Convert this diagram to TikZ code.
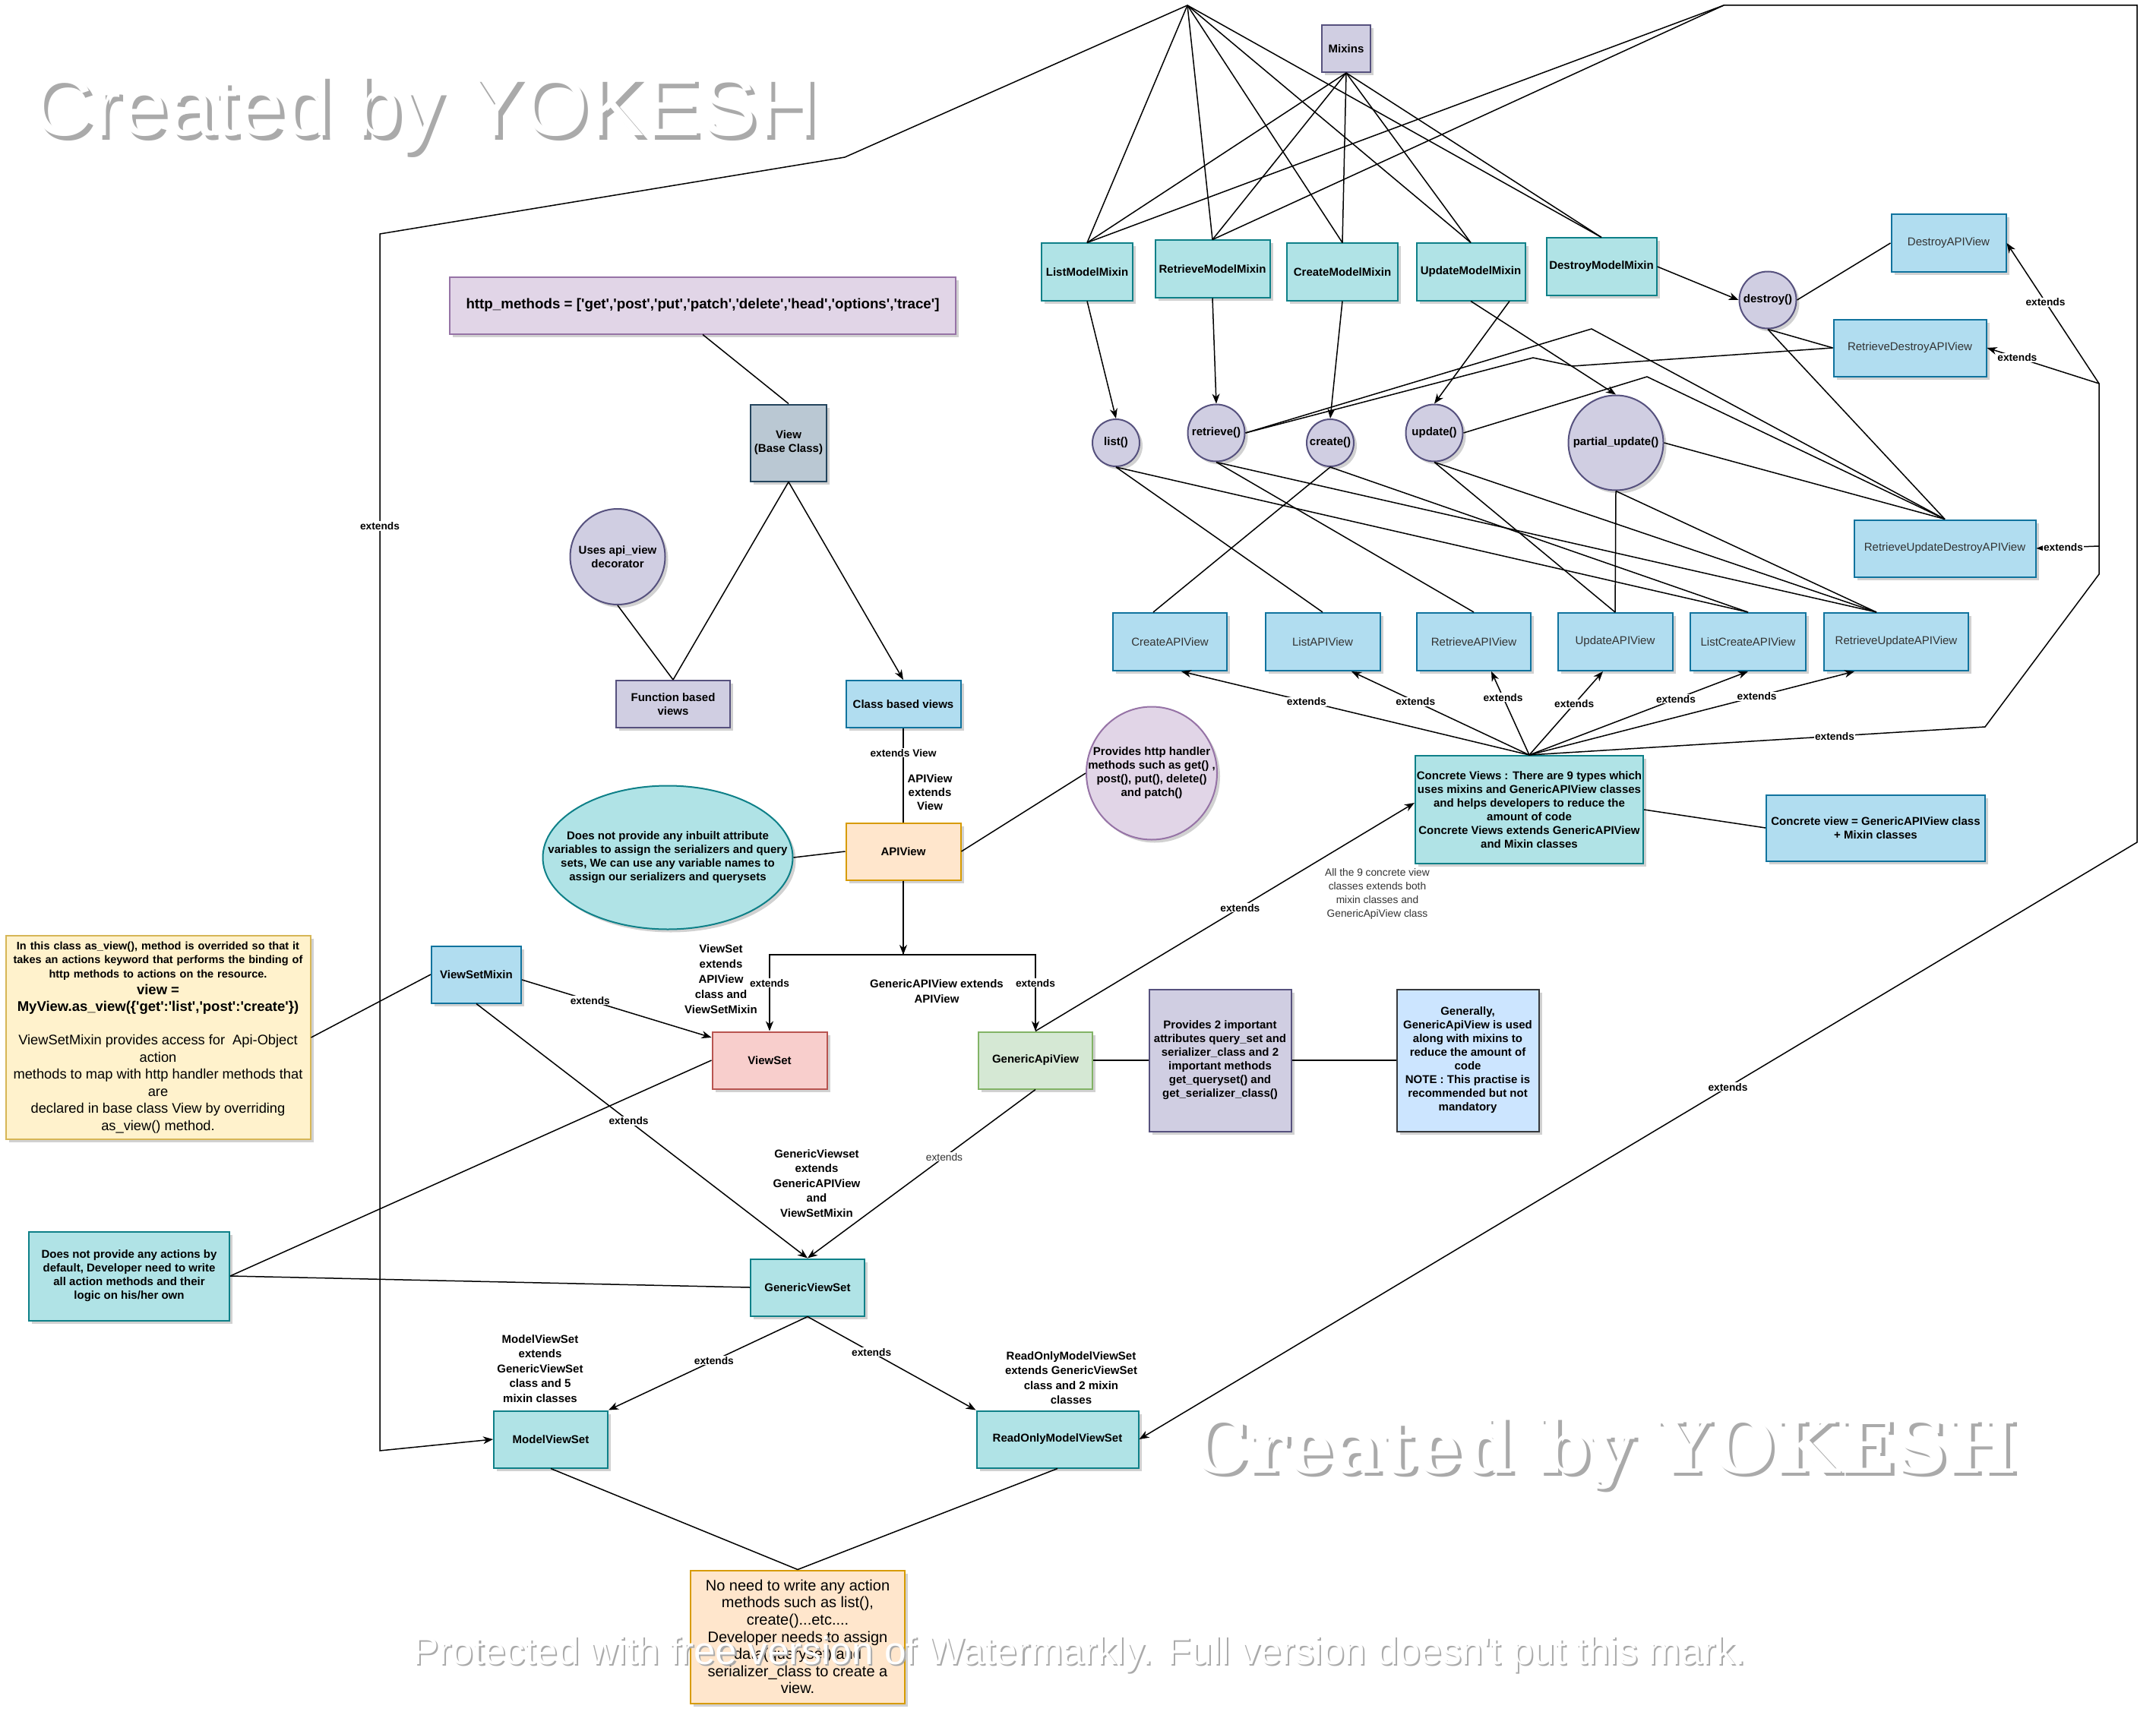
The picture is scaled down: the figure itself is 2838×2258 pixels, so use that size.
\documentclass[tikz,border=0pt]{standalone}
\usepackage{fontspec}
\usepackage{graphicx}
\newfontfamily\dsans{Liberation Sans}
\newfontfamily\wmserif{DejaVu Serif}
\usetikzlibrary{shapes.geometric,arrows.meta,shadows}
\definecolor{tealF}{HTML}{B0E3E6}\definecolor{tealD}{HTML}{0E8088}
\definecolor{blueF}{HTML}{B1DDF0}\definecolor{blueD}{HTML}{10739E}
\definecolor{purF}{HTML}{D0CEE2}\definecolor{purD}{HTML}{56517E}
\definecolor{lilF}{HTML}{E1D5E7}\definecolor{lilD}{HTML}{9673A6}
\definecolor{grayF}{HTML}{BAC8D3}\definecolor{grayD}{HTML}{23445D}
\definecolor{orF}{HTML}{FFE6CC}\definecolor{orD}{HTML}{D79B00}
\definecolor{redF}{HTML}{F8CECC}\definecolor{redD}{HTML}{B85450}
\definecolor{grF}{HTML}{D5E8D4}\definecolor{grD}{HTML}{82B366}
\definecolor{yeF}{HTML}{FFF2CC}\definecolor{yeD}{HTML}{D6B656}
\definecolor{lbF}{HTML}{CCE5FF}\definecolor{lbD}{HTML}{36393D}
\definecolor{txtgray}{HTML}{333333}
\definecolor{wmshadow}{HTML}{AAAAAA}
\newcommand{\wmtext}[2]{\makebox[0pt][l]{\kern#2\raisebox{-#2}{\textcolor{wmshadow}{#1}}}\textcolor{white}{#1}}
\begin{document}
\begin{tikzpicture}[x=1pt,y=-1pt,
  font=\dsans\bfseries\fontsize{15}{18}\selectfont,
  base/.style={line width=2pt, inner sep=2pt, align=center,
    drop shadow={shadow xshift=4pt,shadow yshift=-4pt,opacity=0.18,fill=black}},
  tbox/.style={base, fill=tealF, draw=tealD},
  bbox/.style={base, fill=blueF, draw=blueD},
  pbox/.style={base, fill=purF, draw=purD},
  lbox/.style={base, fill=lilF, draw=lilD},
  obox/.style={base, fill=orF, draw=orD},
  pell/.style={pbox, ellipse, inner sep=0pt},
  lell/.style={lbox, ellipse, inner sep=0pt},
  tell/.style={tbox, ellipse, inner sep=0pt},
  reg/.style={font=\dsans\mdseries\fontsize{15}{18}\selectfont, text=txtgray},
  tx/.style={align=center, inner sep=0pt},
  ln/.style={line width=1.5pt, draw=black},
  arr/.style={ln, -{Stealth[length=13pt,width=10pt,inset=4pt]}},
  lab/.style={fill=white, inner sep=1pt, font=\dsans\bfseries\fontsize{13.75}{16}\selectfont},
  labr/.style={lab, font=\dsans\mdseries\fontsize{13.75}{16}\selectfont, text=txtgray}
]
\fill[white] (0,0) rectangle (2838,2258);
\useasboundingbox (0,0) rectangle (2838,2258);

% ---------- mixins ----------
\node[pbox, minimum width=64, minimum height=62] (mixins) at (1772,64) {Mixins};
\node[tbox, minimum width=120, minimum height=75] (lmm) at (1431,358) {ListModelMixin};
\node[tbox, minimum width=151, minimum height=75] (rmm) at (1596,354) {RetrieveModelMixin};
\node[tbox, minimum width=146, minimum height=75] (cmm) at (1767,358) {CreateModelMixin};
\node[tbox, minimum width=143, minimum height=75] (umm) at (1936,358) {UpdateModelMixin};
\node[tbox, minimum width=145, minimum height=75] (dmm) at (2108,351) {DestroyModelMixin};

% ---------- methods ----------
\node[pell, minimum width=62, minimum height=62] (list) at (1469,583) {};
\node[tx] (listT) at (list) {list()};
\node[pell, minimum width=75, minimum height=75] (retr) at (1601,570) {};
\node[tx] (retrT) at (retr) {retrieve()};
\node[pell, minimum width=62, minimum height=62] (create) at (1751,583) {};
\node[tx] (createT) at (create) {create()};
\node[pell, minimum width=75, minimum height=75] (update) at (1888,570) {};
\node[tx] (updateT) at (update) {update()};
\node[pell, minimum width=125, minimum height=125] (pupd) at (2127,583) {};
\node[tx] (pupdT) at (pupd) {partial\_update()};
\node[pell, minimum width=75, minimum height=75] (destroy) at (2327,395) {};
\node[tx] (destroyT) at (destroy) {destroy()};

% ---------- concrete api views ----------
\node[bbox, reg, minimum width=151, minimum height=75] (dav) at (2565,320) {DestroyAPIView};
\node[bbox, reg, minimum width=201, minimum height=75] (rdav) at (2514,458) {RetrieveDestroyAPIView};
\node[bbox, reg, minimum width=239, minimum height=75] (rudav) at (2560,722) {RetrieveUpdateDestroyAPIView};
\node[bbox, reg, minimum width=150, minimum height=76] (cav) at (1540,845) {CreateAPIView};
\node[bbox, reg, minimum width=151, minimum height=76] (lav) at (1741,845) {ListAPIView};
\node[bbox, reg, minimum width=150, minimum height=76] (rav) at (1940,845) {RetrieveAPIView};
\node[bbox, reg, minimum width=151, minimum height=76] (uav) at (2126,845) {UpdateAPIView};
\node[bbox, reg, minimum width=152, minimum height=76] (lcav) at (2301,845) {ListCreateAPIView};
\node[bbox, reg, minimum width=190, minimum height=76] (ruav) at (2496,845) {RetrieveUpdateAPIView};

\node[tbox, minimum width=299, minimum height=142] (conc) at (2013,1066)
  {Concrete Views : There are 9 types which\\uses mixins and GenericAPIView classes\\and helps developers to reduce the\\amount of code\\Concrete Views extends GenericAPIView\\and Mixin classes};
\node[bbox, minimum width=288, minimum height=87] (cv) at (2469,1090)
  {Concrete view = GenericAPIView class\\+ Mixin classes};
\node[tx, font=\dsans\mdseries\fontsize{13.75}{18}\selectfont, text=txtgray] (allnine) at (1813,1177)
  {All the 9 concrete view\\classes extends both\\mixin classes and\\GenericApiView class};

% ---------- left part ----------
\node[lbox, minimum width=666, minimum height=75, font=\dsans\bfseries\fontsize{18.75}{22}\selectfont] (http) at (925,402)
  {http\_methods = ['get','post','put','patch','delete','head','options','trace']};
\node[base, fill=grayF, draw=grayD, minimum width=100, minimum height=101] (view) at (1038,583) {View\\(Base Class)};
\node[pell, minimum width=125, minimum height=126] (api) at (813,733) {};
\node[tx] (apiT) at (api) {Uses api\_view\\decorator};
\node[pbox, minimum width=150, minimum height=62] (fbv) at (886,927) {Function based\\views};
\node[bbox, minimum width=151, minimum height=62] (cbv) at (1189,927) {Class based views};
\node[obox, minimum width=151, minimum height=75] (apiv) at (1189,1121) {APIView};
\node[tx] (tapiv) at (1224,1043) {APIView\\extends\\View};
\node[lell, minimum width=172, minimum height=175] (phh) at (1516,1018) {};
\node[tx] (phhT) at (phh) {Provides http handler\\methods such as get() ,\\post(), put(), delete()\\and patch()};
\node[tell, minimum width=329, minimum height=189] (dnp) at (879,1129) {};
\node[tx] (dnpT) at (dnp) {Does not provide any inbuilt attribute\\variables to assign the serializers and query\\sets, We can use any variable names to\\assign our serializers and querysets};

\node[base, fill=redF, draw=redD, minimum width=151, minimum height=75] (vs) at (1013,1396) {ViewSet};
\node[base, fill=grF, draw=grD, minimum width=150, minimum height=75] (gav) at (1363,1396) {GenericApiView};
\node[tx, font=\dsans\bfseries\fontsize{15}{20}\selectfont] (tvs) at (949,1289) {ViewSet\\extends\\APIView\\class and\\ViewSetMixin};
\node[tx, font=\dsans\bfseries\fontsize{15}{20}\selectfont] (tgav) at (1233,1305) {GenericAPIView extends\\APIView};
\node[pbox, minimum width=187, minimum height=187] (p2i) at (1606,1396)
  {Provides 2 important\\attributes query\_set and\\serializer\_class and 2\\important methods\\get\_queryset() and\\get\_serializer\_class()};
\node[base, fill=lbF, draw=lbD, minimum width=187, minimum height=187] (gen) at (1932,1396)
  {Generally,\\GenericApiView is used\\along with mixins to\\reduce the amount of\\code\\NOTE : This practise is\\recommended but not\\mandatory};

\node[bbox, minimum width=118, minimum height=75] (vsm) at (627,1283) {ViewSetMixin};
\node[base, fill=yeF, draw=yeD, minimum width=401, minimum height=268, text width=399pt, inner sep=1pt] (yel) at (208,1366)
  {{\fontsize{14.5}{18.5}\selectfont In this class as\_view(), method is overrided so that it\\takes an actions keyword that performs the binding of\\http methods to actions on the resource.\par}
   {\fontsize{18.5}{22}\selectfont view =\\MyView.as\_view(\{'get':'list','post':'create'\})\par}
   \vspace{22pt}
   {\mdseries\fontsize{18.3}{22.5}\selectfont ViewSetMixin provides access for~ Api-Object\\action\\methods to map with http handler methods that\\are\\declared in base class View by overriding\\as\_view() method.\par}};
\node[tbox, minimum width=264, minimum height=117] (dnpa) at (170,1680)
  {Does not provide any actions by\\default, Developer need to write\\all action methods and their\\logic on his/her own};
\node[tx, font=\dsans\bfseries\fontsize{15}{19.5}\selectfont] (tgvs) at (1075,1558) {GenericViewset\\extends\\GenericAPIView\\and\\ViewSetMixin};
\node[tbox, minimum width=150, minimum height=75] (gvs) at (1063,1695) {GenericViewSet};
\node[tbox, minimum width=150, minimum height=75] (mvs) at (725,1895) {ModelViewSet};
\node[tbox, minimum width=213, minimum height=75] (romvs) at (1392,1895) {ReadOnlyModelViewSet};
\node[tx, font=\dsans\bfseries\fontsize{15}{19.5}\selectfont] (tmvs) at (711,1802) {ModelViewSet\\extends\\GenericViewSet\\class and 5\\mixin classes};
\node[tx, font=\dsans\bfseries\fontsize{15}{19.5}\selectfont] (tromvs) at (1410,1814) {ReadOnlyModelViewSet\\extends GenericViewSet\\class and 2 mixin\\classes};
\node[obox, minimum width=282, minimum height=175, font=\dsans\mdseries\fontsize{20}{22.6}\selectfont] (noneed) at (1050,2155)
  {No need to write any action\\methods such as list(),\\create()...etc....\\Developer needs to assign\\data(queryset) and\\serializer\_class to create a\\view.};

% ---------- coordinates ----------
\coordinate (p1) at (1563,7);
\coordinate (w1) at (1112,207);
\coordinate (w2) at (500,308);
\coordinate (w3) at (500,1910);
\coordinate (p2) at (2269,7);
\coordinate (q1) at (2813,7);
\coordinate (q2) at (2813,1109);
\coordinate (b1) at (2613,957);
\coordinate (b2) at (2763,756);
\coordinate (b3) at (2763,505);
\coordinate (b4) at (2763,719);
\coordinate (rwp1) at (2095,433);
\coordinate (rwp2) at (2018,471);
\coordinate (rwp3) at (2070,482);
\coordinate (uwp) at (2168,496);
\coordinate (j) at (1189,1257);
\coordinate (jl) at (1013,1257);
\coordinate (jr) at (1363,1257);

% ---------- edges: mixins ----------
\foreach \m in {lmm,rmm,cmm,umm,dmm}{
  \draw[ln] (mixins.south) -- (\m.north);
  \draw[ln] (p1) -- (\m.north);
}
\draw[arr] (p1) -- (w1) -- (w2) -- node[lab,pos=0.24] (l1) {extends} (w3) -- (mvs.west);
\draw[ln] (lmm.north) -- (p2);
\draw[ln] (rmm.north) -- (p2);
\draw[arr] (p2) -- (q1) -- (q2) -- node[lab,pos=0.41] (l2) {extends} (romvs.east);

\draw[arr] (lmm.south) -- (list.north);
\draw[arr] (rmm.south) -- (retr.north);
\draw[arr] (cmm.south) -- (create.north);
\draw[arr] ([xshift=51pt]umm.south) -- (update.north);
\draw[arr] (umm.south) -- (pupd.north);
\draw[arr] (dmm.east) -- (destroy.west);

% methods -> views
\draw[ln] (list.south) -- (lav.north);
\draw[ln] (list.south) -- (lcav.north);
\draw[ln] (retr.south) -- (rav.north);
\draw[ln] (retr.south) -- ([xshift=-26pt]ruav.north);
\draw[ln] (create.south) -- ([xshift=-22pt]cav.north);
\draw[ln] (create.south) -- (lcav.north);
\draw[ln] (update.south) -- (uav.north);
\draw[ln] (update.south) -- ([xshift=-26pt]ruav.north);
\draw[ln] (pupd.south) -- (uav.north);
\draw[ln] (pupd.south) -- ([xshift=-26pt]ruav.north);
\draw[ln] (pupd.east) -- (rudav.north);
\draw[ln] (update.east) -- (uwp) -- (rudav.north);
\draw[ln] (retr.east) -- (rwp1) -- (rudav.north);
\draw[ln] (retr.east) -- (rwp2) -- (rwp3) -- (rdav.west);
\draw[ln] (destroy.south) -- (rdav.west);
\draw[ln] (destroy.south) -- (rudav.north);
\draw[ln] (destroy.east) -- (dav.west);

% concrete -> views
\draw[arr] (conc.north) -- node[lab,pos=0.64] (l3) {extends} ([xshift=15pt]cav.south);
\draw[arr] (conc.north) -- node[lab,pos=0.64] (l4) {extends} ([xshift=38pt]lav.south);
\draw[arr] (conc.north) -- node[lab,pos=0.69] (l5) {extends} ([xshift=23pt]rav.south);
\draw[arr] (conc.north) -- node[lab,pos=0.61] (l6) {extends} ([xshift=-16pt]uav.south);
\draw[arr] (conc.north) -- node[lab,pos=0.67] (l7) {extends} (lcav.south);
\draw[arr] (conc.north) -- node[lab,pos=0.70] (l8) {extends} ([xshift=-55pt]ruav.south);
\draw[arr] (conc.north) -- node[lab,pos=0.67] (l9) {extends} (b1) -- (b2) -- (b3) -- node[lab,pos=0.58] (l10) {extends} (dav.east);
\draw[arr] (b3) -- node[lab,pos=0.73] (l11) {extends} (rdav.east);
\draw[arr] (b4) -- node[lab,pos=0.57] (l12) {extends} (rudav.east);
\draw[ln] (conc.east) -- (cv.west);

% left part
\draw[ln] (http.south) -- (view.north);
\draw[ln] (view.south) -- (fbv.north);
\draw[arr] (view.south) -- (cbv.north);
\draw[ln] (api.south) -- (fbv.north);
\draw[ln] (cbv.south) -- node[lab,pos=0.26] (l13) {extends View} (apiv.north);
\draw[ln] (apiv.east) -- (phh.west);
\draw[ln] (dnp.east) -- (apiv.west);
\draw[arr] (apiv.south) -- (j);
\draw[arr] (apiv.south) -- (j) -- (jl) -- node[lab,pos=0.37] (l14) {extends} (vs.north);
\draw[arr] (apiv.south) -- (j) -- (jr) -- node[lab,pos=0.37] (l15) {extends} (gav.north);
\draw[arr] (gav.north) -- node[lab,pos=0.54] (l16) {extends} ([yshift=9pt]conc.west);
\draw[ln] (gav.east) -- (p2i.west);
\draw[ln] (p2i.east) -- (gen.west);
\draw[arr] (gav.south) -- node[labr,pos=0.40] (l17) {extends} (gvs.north);
\draw[arr] ([yshift=-7pt]vsm.east) -- node[lab,pos=0.36] (l18) {extends} ([yshift=30pt]vs.west);
\draw[arr] (vsm.south) -- node[lab,pos=0.46] (l19) {extends} (gvs.north);
\draw[ln] (yel.east) -- (vsm.west);
\draw[ln] (dnpa.east) -- (vs.west);
\draw[ln] (dnpa.east) -- (gvs.west);
\draw[arr] (gvs.south) -- node[lab,pos=0.47] (l20) {extends} (mvs.north east);
\draw[arr] (gvs.south) -- node[lab,pos=0.38] (l21) {extends} (romvs.north west);
\draw[ln] (mvs.south) -- (noneed.north);
\draw[ln] (romvs.south) -- (noneed.north);

% ---------- watermarks ----------
\node[anchor=base west, inner sep=0pt] (wm1) at (42,179)
  {\resizebox{1034pt}{!}{\dsans\mdseries\fontsize{100}{100}\selectfont\wmtext{Created by YOKESH}{5pt}}};
\node[anchor=base west, inner sep=0pt] (wm2) at (1566,1939)
  {\resizebox{1089pt}{!}{\wmserif\fontsize{100}{100}\selectfont\wmtext{Created by YOKESH}{5pt}}};
\node[anchor=base west, inner sep=0pt] (wm3) at (543,2191)
  {\resizebox{1755pt}{!}{\dsans\mdseries\fontsize{50}{50}\selectfont\wmtext{Protected with free version of Watermarkly. Full version doesn't put this mark.}{2pt}}};
\end{tikzpicture}
\end{document}
